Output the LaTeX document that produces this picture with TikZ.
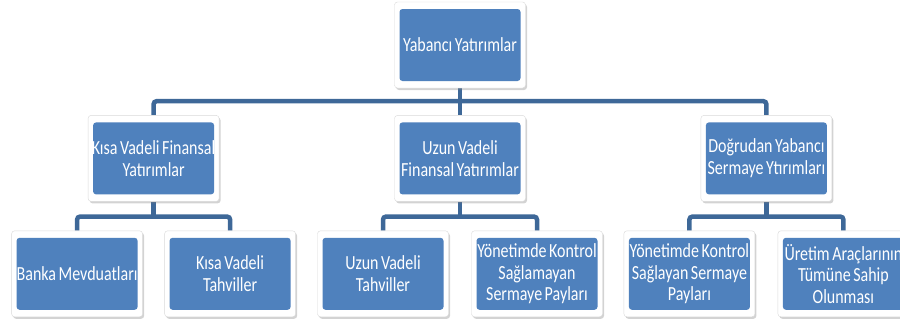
\documentclass[tikz,border=0pt]{standalone}
\usepackage{fontspec}
\setmainfont{Carlito}[FakeStretch=0.8, WordSpace=0.7]
\usepackage{tikz}
\usetikzlibrary{positioning,shadows,backgrounds,calc}
\definecolor{cardblue}{RGB}{79,129,189}
\definecolor{linkblue}{RGB}{62,104,152}
\tikzset{
  card/.style={draw=black!15, fill=white, rounded corners=3pt, minimum width=131pt, minimum height=86pt,
    align=center, inner sep=0pt, text=white, font=\fontsize{20}{21.7}\selectfont,
    drop shadow={shadow xshift=1.5pt, shadow yshift=-2pt, opacity=0.35},
    path picture={\fill[cardblue] ([shift={(5pt,7pt)}]path picture bounding box.south west) rectangle ([shift={(-5pt,-7pt)}]path picture bounding box.north east);}},
  link/.style={draw=linkblue, line width=4.5pt, rounded corners=3pt},
}
\begin{document}
\begin{tikzpicture}[node distance=27pt and 175pt]
  \useasboundingbox (0,0) rectangle (900pt,-322pt);

  % Root
  \node[card] (root) at (460pt,-45pt) {Yabancı Yatırımlar};

  % Second level
  \node[card, below=of root] (uzun) {Uzun Vadeli\\Finansal Yatırımlar};
  \node[card, left=of uzun] (kisa) {Kısa Vadeli Finansal\\Yatırımlar};
  \node[card, right=of uzun] (dogru) {Doğrudan Yabancı\\Sermaye Ytırımları};

  % Third level
  \node[card, below=29pt of kisa, xshift=-76.5pt] (banka) {Banka Mevduatları};
  \node[card, below=29pt of kisa, xshift=76.5pt] (ktahvil) {Kısa Vadeli\\Tahviller};
  \node[card, below=29pt of uzun, xshift=-77pt] (utahvil) {Uzun Vadeli\\Tahviller};
  \node[card, below=29pt of uzun, xshift=77pt] (sagmayan) {Yönetimde Kontrol\\Sağlamayan\\Sermaye Payları};
  \node[card, below=29pt of dogru, xshift=-77pt] (saglayan) {Yönetimde Kontrol\\Sağlayan Sermaye\\Payları};
  \node[card, below=29pt of dogru, xshift=77pt] (uretim) {Üretim Araçlarının\\Tümüne Sahip\\Olunması};

  % Connectors
  \begin{scope}[on background layer]
    \draw[link] (root.south) -- (uzun.north);
    \draw[link] (kisa.north) |- ([yshift=-13pt]root.south) -| (dogru.north);
    \draw[link] (kisa.south) -- ++(0,-15pt);
    \draw[link] (banka.north) |- ([yshift=-15pt]kisa.south) -| (ktahvil.north);
    \draw[link] (uzun.south) -- ++(0,-15pt);
    \draw[link] (utahvil.north) |- ([yshift=-15pt]uzun.south) -| (sagmayan.north);
    \draw[link] (dogru.south) -- ++(0,-15pt);
    \draw[link] (saglayan.north) |- ([yshift=-15pt]dogru.south) -| (uretim.north);
  \end{scope}
\end{tikzpicture}
\end{document}
